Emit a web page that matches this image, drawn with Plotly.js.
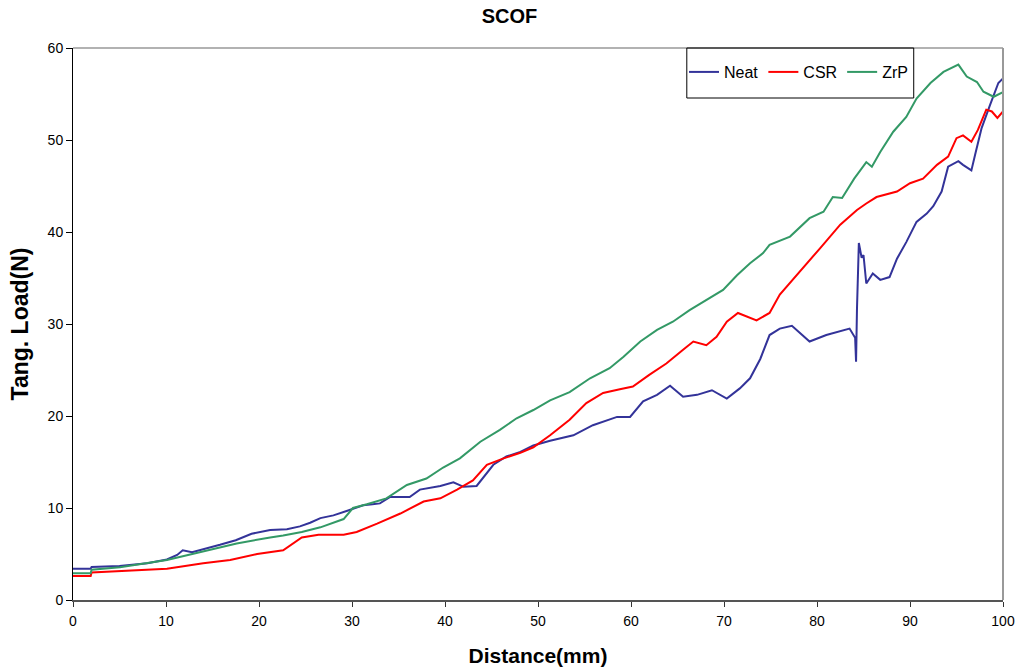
<!DOCTYPE html>
<html>
<head>
<meta charset="utf-8">
<script src="https://cdn.plot.ly/plotly-3.0.1.min.js"></script>
<style>
  html, body { margin: 0; padding: 0; background: #ffffff; }
  #chart { width: 1019px; height: 669px; }
</style>
</head>
<body>
<div id="chart"></div>
<script>
// Scratch test: tangential load versus sliding distance
const neatX = [0, 1.9, 2.0, 5, 8, 10.1, 11.2, 11.8, 12.8, 14, 15.8, 17.5, 19.2, 21.2, 23, 24.4, 25.5, 26.6, 28.0, 29.5, 31.2, 32.2, 33.0, 34.1, 36.2, 37.3, 39.5, 40.9, 42.0, 43.4, 45.2, 46.6, 48.1, 49.5, 51.3, 53.8, 55.9, 58.5, 59.9, 61.3, 62.8, 64.2, 65.6, 67.1, 68.7, 70.3, 71.7, 72.8, 73.9, 74.9, 76.0, 77.3, 79.2, 81.0, 83.5, 84.1, 84.2, 84.3, 84.5, 84.8, 85.0, 85.3, 86.0, 86.8, 87.8, 88.6, 89.6, 90.7, 91.8, 92.5, 93.4, 94.1, 95.2, 95.7, 96.6, 97.0, 97.7, 98.6, 99.5, 100];
const neatY = [3.4, 3.4, 3.6, 3.7, 4.0, 4.4, 4.9, 5.4, 5.2, 5.5, 6.0, 6.5, 7.2, 7.6, 7.7, 8.0, 8.4, 8.9, 9.2, 9.7, 10.3, 10.4, 10.5, 11.2, 11.2, 12.0, 12.4, 12.8, 12.3, 12.4, 14.7, 15.6, 16.1, 16.8, 17.3, 17.9, 19.0, 19.9, 19.9, 21.6, 22.3, 23.3, 22.1, 22.3, 22.8, 21.9, 23.0, 24.1, 26.2, 28.8, 29.5, 29.8, 28.1, 28.8, 29.5, 28.5, 25.9, 31.7, 38.8, 37.2, 37.5, 34.4, 35.5, 34.8, 35.1, 37.1, 38.9, 41.1, 42.0, 42.8, 44.4, 47.1, 47.7, 47.3, 46.7, 48.4, 51.3, 53.8, 56.2, 56.7];

const csrX = [0, 1.9, 2.0, 6.8, 10.1, 14.0, 16.9, 19.8, 22.6, 24.6, 26.4, 29.1, 30.5, 32.7, 35.2, 37.7, 39.5, 41.3, 43.0, 44.5, 46.3, 48.1, 49.5, 51.3, 53.4, 55.2, 57.0, 58.8, 60.2, 62.0, 63.8, 65.6, 66.7, 68.1, 69.2, 70.3, 71.5, 73.5, 74.9, 76.0, 78.2, 80.3, 82.5, 84.3, 85.3, 86.4, 88.6, 90.0, 91.4, 92.9, 94.1, 95.0, 95.7, 96.6, 97.3, 98.2, 98.8, 99.4, 100];
const csrY = [2.6, 2.6, 3.0, 3.2, 3.4, 4.0, 4.35, 5.0, 5.4, 6.8, 7.1, 7.1, 7.4, 8.3, 9.4, 10.7, 11.05, 12.0, 13.0, 14.7, 15.4, 16.0, 16.6, 17.9, 19.6, 21.4, 22.5, 22.9, 23.2, 24.5, 25.7, 27.2, 28.1, 27.7, 28.6, 30.25, 31.2, 30.4, 31.2, 33.2, 35.7, 38.2, 40.8, 42.4, 43.1, 43.8, 44.4, 45.3, 45.8, 47.3, 48.2, 50.2, 50.5, 49.8, 51.1, 53.3, 53.1, 52.4, 53.1];

const zrpX = [0, 1.9, 2.0, 5.05, 10.1, 14.0, 17.6, 21.2, 22.6, 24.6, 26.6, 29.1, 30.1, 31.6, 33.7, 35.9, 38.0, 39.8, 41.6, 43.8, 45.9, 47.7, 49.5, 51.3, 53.4, 55.6, 57.7, 59.2, 61.0, 62.8, 64.5, 66.3, 68.1, 69.9, 71.4, 72.8, 74.2, 74.9, 77.1, 79.2, 80.7, 81.7, 82.7, 84.0, 85.3, 85.9, 86.8, 88.2, 89.6, 90.7, 92.2, 93.6, 95.2, 96.1, 97.2, 97.9, 99.0, 99.8, 100];
const zrpY = [2.9, 2.9, 3.3, 3.55, 4.35, 5.25, 6.15, 6.8, 7.0, 7.4, 7.9, 8.8, 10.0, 10.4, 11.05, 12.5, 13.2, 14.4, 15.4, 17.2, 18.5, 19.75, 20.65, 21.7, 22.6, 24.1, 25.2, 26.45, 28.1, 29.35, 30.25, 31.5, 32.6, 33.7, 35.3, 36.6, 37.7, 38.6, 39.5, 41.5, 42.2, 43.8, 43.7, 45.8, 47.6, 47.1, 48.7, 50.9, 52.5, 54.5, 56.2, 57.4, 58.2, 56.9, 56.3, 55.25, 54.7, 55.1, 55.2];

const seriesNames = ['Neat', 'CSR', 'ZrP'];
const seriesColors = ['#333399', '#ff0000', '#339966'];
const xTicks = [0, 10, 20, 30, 40, 50, 60, 70, 80, 90, 100];
const yTicks = [0, 10, 20, 30, 40, 50, 60];

const xs = [neatX, csrX, zrpX];
const ys = [neatY, csrY, zrpY];

const traces = seriesNames.map((name, i) => ({
  type: 'scatter',
  mode: 'lines',
  name: name,
  x: xs[i],
  y: ys[i],
  line: { color: seriesColors[i], width: 2 }
}));

const font = 'Arial, "Liberation Sans", sans-serif';

const layout = {
  width: 1019,
  height: 669,
  margin: { l: 73, r: 16, t: 48, b: 69 },
  paper_bgcolor: '#ffffff',
  plot_bgcolor: '#ffffff',
  font: { family: font, color: '#000000' },
  title: {
    text: '<b>SCOF</b>',
    font: { family: font, size: 20, color: '#000000' },
    x: 0.5, xanchor: 'center',
    y: 0.976, yanchor: 'middle'
  },
  xaxis: {
    range: [0, 100],
    tickvals: xTicks,
    ticks: 'outside', ticklen: 5, tickcolor: '#333333',
    ticklabelstandoff: 3,
    tickfont: { family: font, size: 14, color: '#000000' },
    showgrid: false, zeroline: false,
    showline: true, linecolor: '#555555', linewidth: 1.5,
    title: { text: '<b>Distance(mm)</b>', font: { family: font, size: 21, color: '#000000' }, standoff: 20 }
  },
  yaxis: {
    range: [0, 60],
    tickvals: yTicks,
    ticks: 'outside', ticklen: 6, tickcolor: '#000000',
    tickfont: { family: font, size: 14, color: '#000000' },
    showgrid: false, zeroline: false,
    showline: true, linecolor: '#000000', linewidth: 1,
    title: { text: '<b>Tang. Load(N)</b>', font: { family: font, size: 23, color: '#000000' }, standoff: 12 }
  },
  shapes: [
    { type: 'line', xref: 'paper', yref: 'paper', x0: 0, x1: 1, y0: 1, y1: 1, line: { color: '#999999', width: 1.5 } },
    { type: 'line', xref: 'paper', yref: 'paper', x0: 1, x1: 1, y0: 0, y1: 1, line: { color: '#999999', width: 2 } },
    // legend frame
    { type: 'rect', xref: 'paper', yref: 'paper', x0: 0.660, x1: 0.904, y0: 0.9094, y1: 1, line: { color: '#000000', width: 1 }, fillcolor: 'rgba(0,0,0,0)' }
  ],
  showlegend: true,
  legend: {
    orientation: 'h',
    x: 0.657, xanchor: 'left',
    y: 0.9565, yanchor: 'middle',
    bgcolor: 'rgba(0,0,0,0)',
    borderwidth: 0,
    font: { family: font, size: 16, color: '#000000' },
    itemwidth: 30,
    tracegroupgap: 0
  }
};

Plotly.newPlot('chart', traces, layout, { displayModeBar: false, staticPlot: true });
</script>
</body>
</html>
